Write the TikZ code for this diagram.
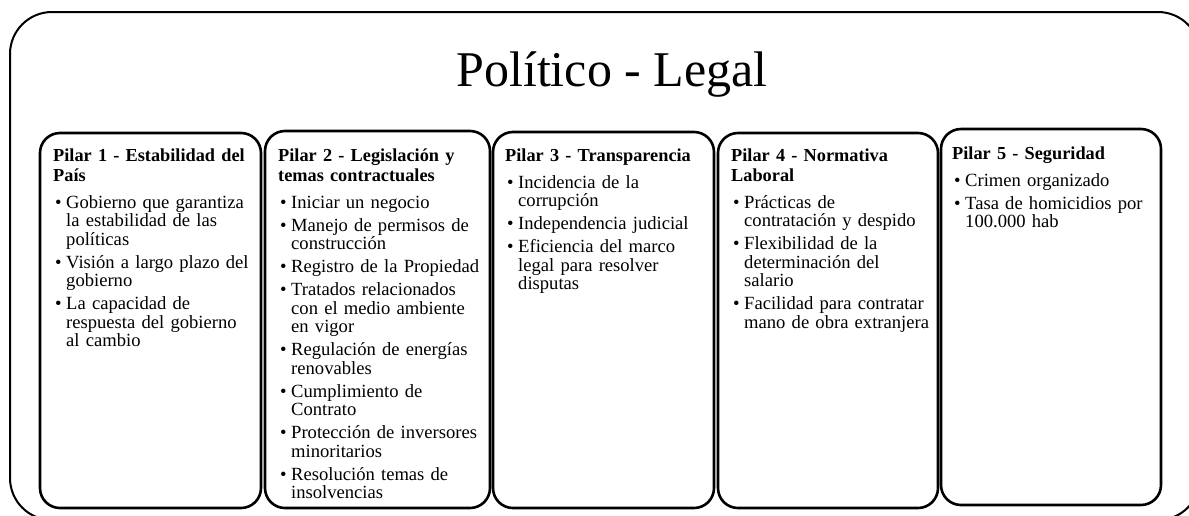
\documentclass[tikz,border=0pt]{standalone}
\usepackage{fontspec}
\setmainfont{Liberation Serif}
\newcommand{\bul}{\hspace*{2pt}\makebox[11pt][l]{\textbullet}}
\newcommand{\cnt}{\hspace*{13pt}}
\newcommand{\hd}[1]{{\fontsize{18.3}{18.5}\selectfont\bfseries #1}}
\begin{document}
\begin{tikzpicture}[x=1pt,y=-1pt,
  outerbox/.style={draw=black,line width=2pt,rounded corners=42pt},
  pbox/.style={draw=black,line width=2.6pt,rounded corners=20pt,anchor=north west,inner sep=0pt,outer sep=0pt},
  ptext/.style={anchor=base west,inner sep=0pt,align=left,text width=215pt,font=\fontsize{18.6}{18.5}\selectfont},
  title/.style={anchor=base,inner sep=0pt,font=\fontsize{50}{60}\selectfont}]
\useasboundingbox (0,0) rectangle (1189,515);
\begin{scope}
\clip (0,0) rectangle (1189,515);
\draw[outerbox] (10,12) rectangle (1200,520);
\end{scope}
\node[title] (t) at (612,86) {Político - Legal};
\node[pbox,minimum width=221pt,minimum height=375pt] (b1) at (40,133) {};
\node[pbox,minimum width=225pt,minimum height=377pt] (b2) at (265,131) {};
\node[pbox,minimum width=221pt,minimum height=376pt] (b3) at (493,132) {};
\node[pbox,minimum width=220pt,minimum height=375pt] (b4) at (718,133) {};
\node[pbox,minimum width=220pt,minimum height=376pt] (b5) at (941,129) {};
\node[ptext] (t1) at (53,161) {\hd{Pilar 1 - Estabilidad del}\\[1.5pt]
\hd{País}\\[8.5pt]
\bul Gobierno que garantiza\\
\cnt la estabilidad de las\\
\cnt políticas\\[4.5pt]
\bul Visión a largo plazo del\\
\cnt gobierno\\[4.5pt]
\bul La capacidad de\\
\cnt respuesta del gobierno\\
\cnt al cambio};
\node[ptext] (t2) at (278,161) {\hd{Pilar 2 - Legislación y}\\[1.5pt]
\hd{temas contractuales}\\[8.5pt]
\bul Iniciar un negocio\\[4.5pt]
\bul Manejo de permisos de\\
\cnt construcción\\[4.5pt]
\bul Registro de la Propiedad\\[4.5pt]
\bul Tratados relacionados\\
\cnt con el medio ambiente\\
\cnt en vigor\\[4.5pt]
\bul Regulación de energías\\
\cnt renovables\\[4.5pt]
\bul Cumplimiento de\\
\cnt Contrato\\[4.5pt]
\bul Protección de inversores\\
\cnt minoritarios\\[4.5pt]
\bul Resolución temas de\\
\cnt insolvencias};
\node[ptext] (t3) at (505,161) {\hd{Pilar 3 - Transparencia}\\[8.5pt]
\bul Incidencia de la\\
\cnt corrupción\\[4.5pt]
\bul Independencia judicial\\[4.5pt]
\bul Eficiencia del marco\\
\cnt legal para resolver\\
\cnt disputas};
\node[ptext] (t4) at (731,161) {\hd{Pilar 4 - Normativa}\\[1.5pt]
\hd{Laboral}\\[8.5pt]
\bul Prácticas de\\
\cnt contratación y despido\\[4.5pt]
\bul Flexibilidad de la\\
\cnt determinación del\\
\cnt salario\\[4.5pt]
\bul Facilidad para contratar\\
\cnt mano de obra extranjera};
\node[ptext] (t5) at (952,159) {\hd{Pilar 5 - Seguridad}\\[8.5pt]
\bul Crimen organizado\\[4.5pt]
\bul Tasa de homicidios por\\
\cnt 100.000 hab};
\end{tikzpicture}
\end{document}
